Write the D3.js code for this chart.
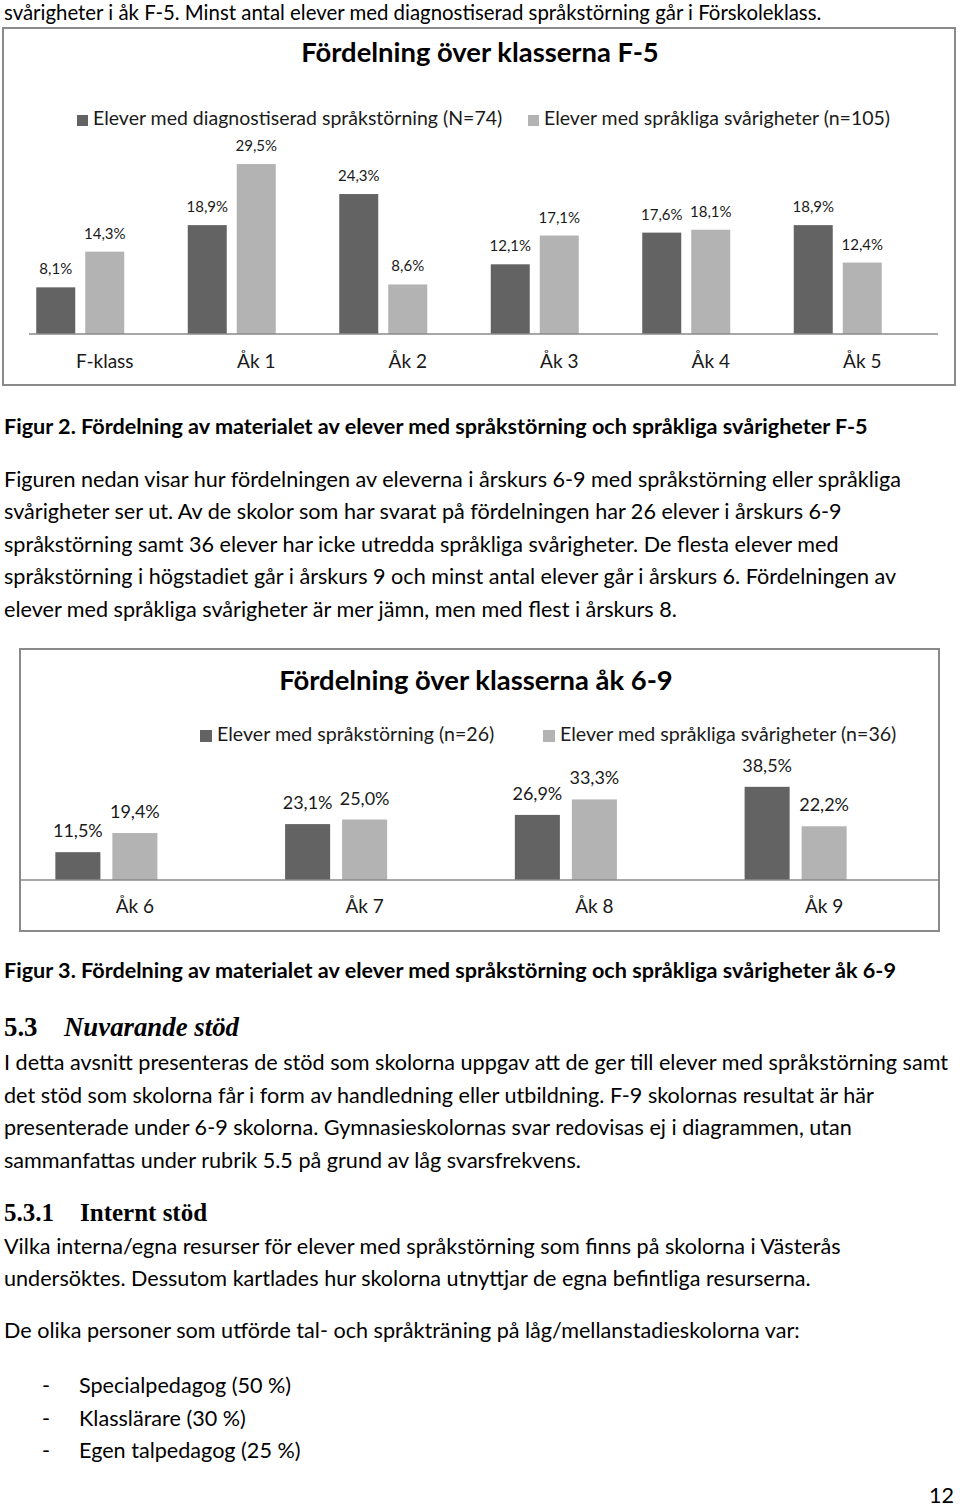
<!DOCTYPE html>
<html>
<head>
<meta charset="utf-8">
<script src="https://cdn.jsdelivr.net/npm/d3@7"></script>
<style>
  html, body { margin: 0; padding: 0; background: #fff; }
  svg { display: block; }
  .body-text { font-family: Lato, "Open Sans", sans-serif; font-size: 21.6px; fill: #000; }
  .chart-text { font-family: Lato, "Open Sans", sans-serif; fill: #1a1a1a; }
  .serif-head { font-family: "Liberation Serif", "DejaVu Serif", serif; fill: #000; }
</style>
</head>
<body>
<div id="page"></div>
<script>
// chart data: Fördelning över klasserna F-5
const categoriesF5 = ["F-klass", "Åk 1", "Åk 2", "Åk 3", "Åk 4", "Åk 5"]
const diagnosedF5 = [8.1, 18.9, 24.3, 12.1, 17.6, 18.9]
const difficultiesF5 = [14.3, 29.5, 8.6, 17.1, 18.1, 12.4]
const legendF5 = ["Elever med diagnostiserad språkstörning (N=74)", "Elever med språkliga svårigheter (n=105)"]

// chart data: Fördelning över klasserna åk 6-9
const categories69 = ["Åk 6", "Åk 7", "Åk 8", "Åk 9"]
const disorder69 = [11.5, 23.1, 26.9, 38.5]
const difficulties69 = [19.4, 25.0, 33.3, 22.2]
const legend69 = ["Elever med språkstörning (n=26)", "Elever med språkliga svårigheter (n=36)"]

const seriesColors = ["#636363", "#b3b3b3"]

// surrounding page text
const introLine = "svårigheter i åk F-5. Minst antal elever med diagnostiserad språkstörning går i Förskoleklass."
const caption2 = "Figur 2. Fördelning av materialet av elever med språkstörning och språkliga svårigheter F-5"
const paragraph2 = [
  "Figuren nedan visar hur fördelningen av eleverna i årskurs 6-9 med språkstörning eller språkliga",
  "svårigheter ser ut. Av de skolor som har svarat på fördelningen har 26 elever i årskurs 6-9",
  "språkstörning samt 36 elever har icke utredda språkliga svårigheter. De flesta elever med",
  "språkstörning i högstadiet går i årskurs 9 och minst antal elever går i årskurs 6. Fördelningen av",
  "elever med språkliga svårigheter är mer jämn, men med flest i årskurs 8."
]
const caption3 = "Figur 3. Fördelning av materialet av elever med språkstörning och språkliga svårigheter åk 6-9"
const paragraph53 = [
  "I detta avsnitt presenteras de stöd som skolorna uppgav att de ger till elever med språkstörning samt",
  "det stöd som skolorna får i form av handledning eller utbildning. F-9 skolornas resultat är här",
  "presenterade under 6-9 skolorna. Gymnasieskolornas svar redovisas ej i diagrammen, utan",
  "sammanfattas under rubrik 5.5 på grund av låg svarsfrekvens."
]
const paragraph531 = [
  "Vilka interna/egna resurser för elever med språkstörning som finns på skolorna i Västerås",
  "undersöktes. Dessutom kartlades hur skolorna utnyttjar de egna befintliga resurserna."
]
const listIntro = "De olika personer som utförde tal- och språkträning på låg/mellanstadieskolorna var:"
const listItems = ["Specialpedagog (50 %)", "Klasslärare (30 %)", "Egen talpedagog (25 %)"]

const fmt = d3.formatLocale({ decimal: ",", thousands: " ", grouping: [3], currency: ["", ""] }).format(".1f")

const svg = d3.select("#page").append("svg")
  .attr("width", 960)
  .attr("height", 1509)

svg.append("rect").attr("width", 960).attr("height", 1509).attr("fill", "#fff")

// helper for a block of lines
function textLines(lines, x, y0, step, cls, weight) {
  return svg.append("g")
    .selectAll("text")
    .data(lines)
    .join("text")
    .attr("class", cls)
    .attr("x", x)
    .attr("y", (d, i) => y0 + i * step)
    .style("font-weight", weight || null)
    .text((d) => d)
}

// grouped bar chart drawn inside a framed box
function barChart(opt) {
  const g = svg.append("g")

  g.append("rect")
    .attr("x", opt.frame[0])
    .attr("y", opt.frame[1])
    .attr("width", opt.frame[2] - opt.frame[0])
    .attr("height", opt.frame[3] - opt.frame[1])
    .attr("fill", "#fff")
    .attr("stroke", "#8a8a8a")
    .attr("stroke-width", 2)

  g.append("text")
    .attr("class", "chart-text")
    .attr("x", opt.titleX)
    .attr("y", opt.titleY)
    .attr("text-anchor", "middle")
    .style("font-size", opt.titleSize + "px")
    .style("font-weight", 700)
    .style("fill", "#000")
    .text(opt.title)

  // legend
  const leg = g.selectAll(".legend")
    .data(opt.legend)
    .join("g")
    .attr("transform", (d, i) => `translate(${opt.legendX[i]}, ${opt.legendY})`)
  leg.append("rect")
    .attr("x", 0)
    .attr("y", -opt.legendBox + 1)
    .attr("width", opt.legendBox)
    .attr("height", opt.legendBox)
    .attr("fill", (d, i) => seriesColors[i])
  leg.append("text")
    .attr("class", "chart-text")
    .attr("x", opt.legendBox + 5)
    .attr("y", 0)
    .style("font-size", opt.legendSize + "px")
    .text((d) => d)

  const x0 = d3.scaleBand()
    .domain(opt.categories)
    .range(opt.xRange)

  // third slot is the empty series of the original workbook, keeps the bars off-centre
  const x1 = d3.scaleBand()
    .domain([0, 1, 2])
    .range([0, x0.bandwidth()])
    .paddingInner(opt.innerPad)
    .paddingOuter(opt.outerPad)

  const y = d3.scaleLinear()
    .domain([0, opt.yMax])
    .range([opt.baseY, opt.baseY - opt.yMax * opt.pxPerUnit])

  const rows = opt.categories.map((c, i) => ({
    cat: c,
    vals: opt.series.map((s) => s[i])
  }))

  const grp = g.selectAll(".grp")
    .data(rows)
    .join("g")
    .attr("transform", (d) => `translate(${x0(d.cat)}, 0)`)

  grp.selectAll("rect")
    .data((d) => d.vals)
    .join("rect")
    .attr("x", (d, i) => x1(i))
    .attr("y", (d) => y(d))
    .attr("width", x1.bandwidth())
    .attr("height", (d) => y(0) - y(d))
    .attr("fill", (d, i) => seriesColors[i])

  grp.selectAll("text")
    .data((d) => d.vals)
    .join("text")
    .attr("class", "chart-text")
    .attr("x", (d, i) => x1(i) + x1.bandwidth() / 2)
    .attr("y", (d) => y(d) - opt.labelGap)
    .attr("text-anchor", "middle")
    .style("font-size", opt.labelSize + "px")
    .text((d) => fmt(d) + "%")

  // category axis
  const axis = g.append("g")
    .attr("transform", `translate(0, ${opt.baseY})`)
    .call(d3.axisBottom(x0).tickSize(0).tickPadding(opt.tickPad))
  axis.select(".domain")
    .attr("stroke", "#8a8a8a")
    .attr("stroke-width", 1.5)
    .attr("d", `M${opt.axisLine[0]},0H${opt.axisLine[1]}`)
  axis.selectAll("text")
    .attr("class", "chart-text")
    .style("font-size", opt.catSize + "px")
    .style("font-family", "Lato, sans-serif")
    .attr("fill", "#1a1a1a")
}

// page text above the first chart
textLines([introLine], 4, 20, 0, "body-text").style("font-size", "20.4px")

barChart({
  frame: [3, 28, 955, 385],
  title: "Fördelning över klasserna F-5",
  titleX: 480, titleY: 62, titleSize: 27.4,
  legend: legendF5, legendX: [77, 528], legendY: 125, legendBox: 11, legendSize: 19.5,
  categories: categoriesF5,
  series: [diagnosedF5, difficultiesF5],
  xRange: [29, 938], innerPad: 0.204, outerPad: 0.148,
  baseY: 334, yMax: 35, pxPerUnit: 5.76,
  labelGap: 13, labelSize: 15,
  axisLine: [29, 938], tickPad: 21, catSize: 19
})

textLines([caption2], 4, 434, 0, "body-text", 700)
textLines(paragraph2, 4, 487, 32.4, "body-text")

barChart({
  frame: [20, 649, 939, 931],
  title: "Fördelning över klasserna åk 6-9",
  titleX: 476, titleY: 690, titleSize: 27.4,
  legend: legend69, legendX: [200, 543], legendY: 741, legendBox: 12, legendSize: 19.6,
  categories: categories69,
  series: [disorder69, difficulties69],
  xRange: [20, 939], innerPad: 0.21, outerPad: 0.62,
  baseY: 880, yMax: 45, pxPerUnit: 2.42,
  labelGap: 15, labelSize: 18,
  axisLine: [20, 939], tickPad: 20, catSize: 19
})

textLines([caption3], 4, 978, 0, "body-text", 700)

// section 5.3
const h53 = svg.append("text").attr("class", "serif-head").attr("x", 4).attr("y", 1036)
  .style("font-size", "26.8px")
h53.append("tspan").style("font-weight", 700).text("5.3")
h53.append("tspan").attr("x", 64).style("font-style", "italic").style("font-weight", 700).text("Nuvarande stöd")
textLines(paragraph53, 4, 1070, 32.6, "body-text")

// section 5.3.1
const h531 = svg.append("text").attr("class", "serif-head").attr("x", 4).attr("y", 1221)
  .style("font-size", "25px")
h531.append("tspan").style("font-weight", 700).text("5.3.1")
h531.append("tspan").attr("x", 80).style("font-weight", 700).text("Internt stöd")
textLines(paragraph531, 4, 1254, 32, "body-text")
textLines([listIntro], 4, 1338, 0, "body-text")

const list = svg.append("g").selectAll("g")
  .data(listItems)
  .join("g")
  .attr("transform", (d, i) => `translate(0, ${1393 + i * 32.5})`)
list.append("text").attr("class", "body-text").attr("x", 42).text("-")
list.append("text").attr("class", "body-text").attr("x", 79).text((d) => d)

svg.append("text").attr("class", "body-text").attr("x", 954).attr("y", 1503)
  .attr("text-anchor", "end").text("12")
</script>
</body>
</html>
